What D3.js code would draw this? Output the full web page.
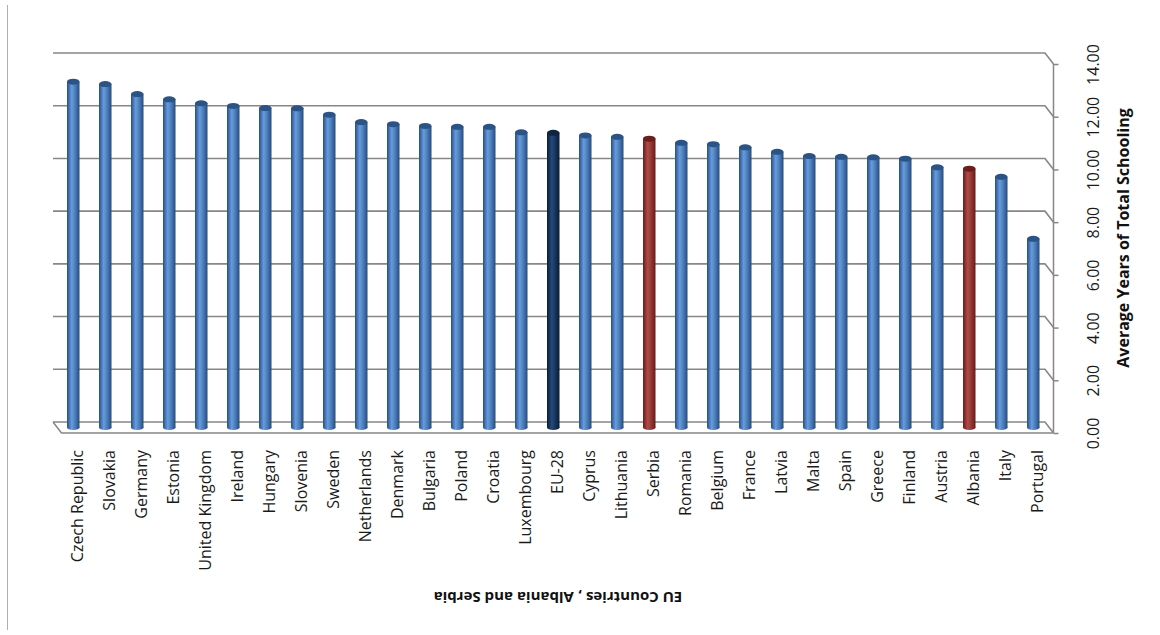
<!DOCTYPE html>
<html>
<head>
<meta charset="utf-8">
<script src="https://cdn.jsdelivr.net/npm/d3@7"></script>
<style>
  html, body { margin: 0; padding: 0; background: #ffffff; }
  svg { display: block; font-family: "Open Sans", "Noto Sans", sans-serif; }
</style>
</head>
<body>
<div id="chart"></div>
<script>
const COUNTRIES = [
  "Czech Republic", "Slovakia", "Germany", "Estonia", "United Kingdom",
  "Ireland", "Hungary", "Slovenia", "Sweden", "Netherlands", "Denmark",
  "Bulgaria", "Poland", "Croatia", "Luxembourg", "EU-28", "Cyprus",
  "Lithuania", "Serbia", "Romania", "Belgium", "France", "Latvia", "Malta",
  "Spain", "Greece", "Finland", "Austria", "Albania", "Italy", "Portugal",
];

const SCHOOLING_YEARS = [
  13.12, 13.03, 12.65, 12.45, 12.3,
  12.2, 12.12, 12.11, 11.87, 11.59, 11.51,
  11.44, 11.41, 11.41, 11.2, 11.18, 11.08,
  11.03, 10.96, 10.8, 10.75, 10.63, 10.46, 10.3,
  10.27, 10.25, 10.2, 9.87, 9.82, 9.51, 7.16,
];

// EU-28 average and the two candidate countries are coloured differently
const AGGREGATES = ["EU-28"];
const CANDIDATES = ["Serbia", "Albania"];

const Y_TICKS = [0, 2, 4, 6, 8, 10, 12, 14];

const PALETTES = {
  member: { stops: ["#2a4f80", "#4779b9", "#6b9bd8", "#4a7ebf", "#284b7a"], top: "#2b5386" },
  aggregate: { stops: ["#0b1c36", "#163560", "#24497c", "#17375e", "#0a1a33"], top: "#0f2443" },
  candidate: { stops: ["#6a1e1c", "#8f3432", "#b04c49", "#953735", "#661b19"], top: "#6b1d1b" },
};

const width = 1160;
const height = 635;
const plot = { left: 53, right: 1045, top: 53, bottom: 422 };
const depth = { x: 8.5, y: 11 };

const svg = d3.select("#chart")
  .append("svg")
  .attr("width", width)
  .attr("height", height);

const defs = svg.append("defs");
Object.entries(PALETTES).forEach(([key, palette]) => {
  const grad = defs.append("linearGradient")
    .attr("id", `cyl-${key}`)
    .attr("x1", "0%").attr("x2", "100%")
    .attr("y1", "0%").attr("y2", "0%");
  [0, 0.2, 0.38, 0.65, 1].forEach((offset, i) => {
    grad.append("stop")
      .attr("offset", `${offset * 100}%`)
      .attr("stop-color", palette.stops[i]);
  });
});

const xScale = d3.scaleBand()
  .domain(COUNTRIES)
  .range([plot.left, plot.right]);

const yScale = d3.scaleLinear()
  .domain([0, 14])
  .range([plot.bottom, plot.top]);

const groupOf = (name) => {
  if (AGGREGATES.includes(name)) return "aggregate";
  if (CANDIDATES.includes(name)) return "candidate";
  return "member";
};

// outer frame line at the left
svg.append("line")
  .attr("x1", 7.5).attr("x2", 7.5)
  .attr("y1", 5).attr("y2", 630)
  .attr("stroke", "#b0b0b0")
  .attr("stroke-width", 1);

const gridColor = "#878787";

// back gridlines with the slanted edge down to the front axis
const grid = svg.append("g");
Y_TICKS.forEach((tick) => {
  const y = yScale(tick);
  grid.append("polyline")
    .attr("points", `${plot.left},${y} ${plot.right},${y} ${plot.right + depth.x},${y + depth.y}`)
    .attr("fill", "none")
    .attr("stroke", gridColor)
    .attr("stroke-width", 1.6);
});

// floor: front edge and left slant
svg.append("polyline")
  .attr("points", `${plot.left},${yScale(0)} ${plot.left + depth.x},${yScale(0) + depth.y} ${plot.right + depth.x},${yScale(0) + depth.y}`)
  .attr("fill", "none")
  .attr("stroke", gridColor)
  .attr("stroke-width", 1.5);

// bars as cylinders at half depth
const barWidth = 12.5;
const midX = depth.x / 2;
const midY = depth.y / 2;
const bars = svg.append("g");

COUNTRIES.forEach((name, i) => {
  const value = SCHOOLING_YEARS[i];
  const group = groupOf(name);
  const cx = xScale(name) + xScale.bandwidth() / 2 + midX;
  const yTop = yScale(value) + midY;
  const yBase = yScale(0) + midY;

  bars.append("ellipse")
    .attr("cx", cx).attr("cy", yBase)
    .attr("rx", barWidth / 2).attr("ry", 2.5)
    .attr("fill", `url(#cyl-${group})`);

  bars.append("rect")
    .attr("x", cx - barWidth / 2)
    .attr("y", yTop)
    .attr("width", barWidth)
    .attr("height", yBase - yTop)
    .attr("fill", `url(#cyl-${group})`);

  bars.append("ellipse")
    .attr("cx", cx).attr("cy", yTop)
    .attr("rx", barWidth / 2).attr("ry", 3)
    .attr("fill", PALETTES[group].top);
});

// right value axis on the front plane
const axisX = plot.right + depth.x;
const yFront = yScale.copy().range([plot.bottom + depth.y, plot.top + depth.y]);

const axis = svg.append("g")
  .attr("transform", `translate(${axisX},0)`)
  .call(d3.axisRight(yFront).tickValues(Y_TICKS).tickSize(5).tickFormat(d3.format(".2f")));

axis.select(".domain")
  .attr("stroke", gridColor)
  .attr("stroke-width", 1.5)
  .attr("d", `M0,${yFront(0)}V${yFront(14)}`);
axis.selectAll(".tick line").attr("stroke", gridColor).attr("stroke-width", 1.5);
axis.selectAll(".tick text")
  .attr("x", null)
  .attr("dy", null)
  .attr("transform", "translate(45,0) rotate(-90)")
  .attr("text-anchor", "middle")
  .attr("font-family", "Open Sans, sans-serif")
  .attr("font-size", 16)
  .attr("fill", "#1a1a1a");

svg.append("text")
  .attr("transform", "translate(1129,238) rotate(-90)")
  .attr("text-anchor", "middle")
  .attr("font-size", 16)
  .attr("font-weight", 700)
  .attr("fill", "#111")
  .text("Average Years of Total Schooling");

// category labels, rotated to read upward
svg.append("g")
  .selectAll("text")
  .data(COUNTRIES)
  .join("text")
  .attr("transform", (d) => `translate(${xScale(d) + xScale.bandwidth() / 2 + depth.x},450) rotate(-90)`)
  .attr("dy", "0.35em")
  .attr("text-anchor", "end")
  .attr("font-size", 16)
  .attr("fill", "#1a1a1a")
  .text((d) => d);

svg.append("text")
  .attr("transform", "translate(558,597) rotate(180)")
  .attr("dy", "0.35em")
  .attr("text-anchor", "middle")
  .attr("font-size", 15)
  .attr("font-weight", 700)
  .attr("fill", "#111")
  .text("EU Countries , Albania and Serbia");
</script>
</body>
</html>
